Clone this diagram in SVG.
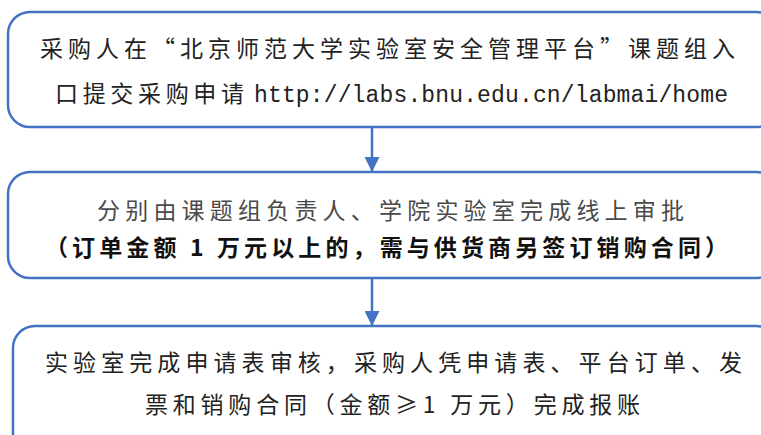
<svg xmlns="http://www.w3.org/2000/svg" width="761" height="435" viewBox="0 0 761 435">
<style>
.box{fill:#fff;stroke:#4472C4;stroke-width:2.5}
.t{font-family:"Noto Sans CJK SC","Liberation Serif",sans-serif;font-size:23px;fill:#222}
.m{font-family:"Liberation Mono","Noto Sans CJK SC",monospace;font-size:23px;fill:#222}
.g{fill:#4a4a4a}
.b{font-weight:bold;fill:#111}
.conn{stroke:#4472C4;stroke-width:2.5;fill:none}
</style>
<defs>
<marker id="ah" markerWidth="6" markerHeight="6" refX="5.6" refY="3" orient="auto" markerUnits="strokeWidth" viewBox="0 0 6 6">
<path d="M0,0 L6,3 L0,6 Z" fill="#4472C4"/>
</marker>
</defs>
<rect width="761" height="435" fill="#fff"/>
<g id="connectors">
<line class="conn" x1="372" y1="127" x2="372" y2="171" marker-end="url(#ah)"/>
<line class="conn" x1="372" y1="278" x2="372" y2="325" marker-end="url(#ah)"/>
</g>
<g id="node1">
<rect class="box" x="8" y="12" width="770" height="115" rx="22"/>
<text class="t" x="40" y="57" textLength="695" lengthAdjust="spacing">采购人在“北京师范大学实验室安全管理平台”课题组入</text>
<text class="t" x="55" y="102" textLength="189" lengthAdjust="spacing">口提交采购申请</text>
<text class="m" x="254" y="102" textLength="474" lengthAdjust="spacing">http://labs.bnu.edu.cn/labmai/home</text>
</g>
<g id="node2">
<rect class="box" x="8" y="172" width="770" height="106" rx="22"/>
<text class="t g" x="97" y="219" textLength="587" lengthAdjust="spacing">分别由课题组负责人、学院实验室完成线上审批</text>
<text class="t b" x="45" y="256" textLength="683" lengthAdjust="spacing">（订单金额 1 万元以上的，需与供货商另签订销购合同）</text>
</g>
<g id="node3">
<rect class="box" x="13" y="326" width="765" height="130" rx="22"/>
<text class="t" x="45" y="371" textLength="697" lengthAdjust="spacing">实验室完成申请表审核，采购人凭申请表、平台订单、发</text>
<text class="t" x="145" y="413" textLength="495" lengthAdjust="spacing">票和销购合同（金额≥1 万元）完成报账</text>
</g>
</svg>
